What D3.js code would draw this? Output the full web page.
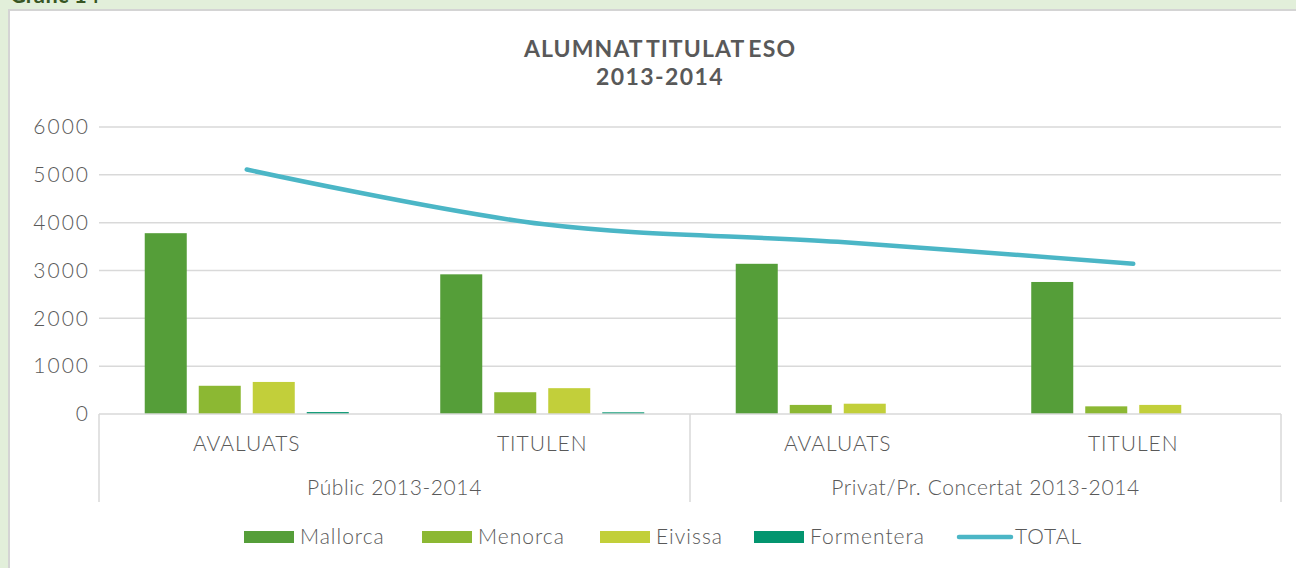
<!DOCTYPE html>
<html>
<head>
<meta charset="utf-8">
<script src="https://cdn.jsdelivr.net/npm/d3@7"></script>
<style>
  html, body { margin: 0; padding: 0; background: #e2efda; }
  svg { display: block; }
</style>
</head>
<body>
<div id="container"></div>
<script>
(function(){
  "use strict";

  // data
  var categories = ["AVALUATS", "TITULEN", "AVALUATS", "TITULEN"];
  var groups = ["Públic 2013-2014", "Privat/Pr. Concertat 2013-2014"];
  var seriesNames = ["Mallorca", "Menorca", "Eivissa", "Formentera"];
  var mallorca = [3780, 2920, 3140, 2760];
  var menorca = [590, 455, 190, 160];
  var eivissa = [670, 540, 215, 190];
  var formentera = [40, 35, 0, 0];
  var total = [5110, 3970, 3600, 3140];
  var yTicks = [0, 1000, 2000, 3000, 4000, 5000, 6000];

  var seriesValues = [mallorca, menorca, eivissa, formentera];
  var colors = ["#559e39", "#8cb833", "#c2cf3a", "#03956f"];
  var lineColor = "#4bb6c6";
  var textColor = "#595959";
  var gridColor = "#d9d9d9";
  var font = "Lato, 'Open Sans', sans-serif";

  var W = 1296, H = 568;
  var plot = { left: 99, right: 1281, top: 127, bottom: 414 };

  var svg = d3.select("#container").append("svg")
      .attr("width", W)
      .attr("height", H);

  // page header, cut off at the top as in the source
  svg.append("text")
      .attr("x", 10)
      .attr("y", 3)
      .attr("font-family", font)
      .attr("font-weight", 700)
      .attr("font-size", 22)
      .attr("fill", "#375623")
      .text("Gràfic 14");

  // white chart panel
  svg.append("rect")
      .attr("x", 9)
      .attr("y", 10)
      .attr("width", W)
      .attr("height", H)
      .attr("fill", "#ffffff")
      .attr("stroke", "#d4d4d4")
      .attr("stroke-width", 2);

  // title
  var title = svg.append("text")
      .attr("text-anchor", "middle")
      .attr("font-family", font)
      .attr("font-weight", 700)
      .attr("font-size", 23)
      .attr("letter-spacing", 1.1)
      .attr("word-spacing", -3)
      .attr("fill", textColor);
  title.append("tspan").attr("x", 660).attr("y", 57).text("ALUMNAT TITULAT ESO");
  title.append("tspan").attr("x", 660).attr("y", 85).attr("letter-spacing", 1.4).text("2013-2014");

  var x0 = d3.scaleBand()
      .domain(d3.range(categories.length))
      .range([plot.left, plot.right])
      .padding(0);
  var x1 = d3.scaleBand()
      .domain(seriesNames)
      .range([0, x0.bandwidth()])
      .paddingInner(0.222)
      .paddingOuter(0.847);
  var y = d3.scaleLinear()
      .domain([0, 6000])
      .range([plot.bottom, plot.top]);

  // gridlines
  svg.append("g")
      .selectAll("line")
      .data(yTicks.filter(function(d){ return d > 0; }))
      .join("line")
      .attr("x1", plot.left)
      .attr("x2", plot.right)
      .attr("y1", function(d){ return y(d); })
      .attr("y2", function(d){ return y(d); })
      .attr("stroke", gridColor)
      .attr("stroke-width", 1.5);

  // y axis labels
  var yAxis = d3.axisLeft(y)
      .tickValues(yTicks)
      .tickFormat(d3.format("d"))
      .tickSize(0)
      .tickPadding(9);
  var yAxisGroup = svg.append("g")
      .attr("transform", "translate(" + plot.left + ",0)")
      .call(yAxis);
  yAxisGroup.select(".domain").remove();
  yAxisGroup.selectAll("text")
      .attr("font-family", font)
      .attr("font-weight", 300)
      .attr("font-size", 21)
      .attr("letter-spacing", 2)
      .attr("fill", textColor);

  // bars
  var rows = seriesNames.map(function(name, i){
    return { name: name, color: colors[i], values: seriesValues[i] };
  });
  svg.append("g")
      .selectAll("g")
      .data(rows)
      .join("g")
      .attr("fill", function(d){ return d.color; })
      .selectAll("rect")
      .data(function(d){
        return d.values.map(function(v, c){ return { name: d.name, cat: c, value: v }; });
      })
      .join("rect")
      .attr("x", function(d){ return x0(d.cat) + x1(d.name); })
      .attr("width", x1.bandwidth())
      .attr("y", function(d){ return y(d.value); })
      .attr("height", function(d){ return y(0) - y(d.value); });

  // category axis: baseline, dividers and labels
  var catAxis = svg.append("g");
  catAxis.append("line")
      .attr("x1", plot.left).attr("x2", plot.right)
      .attr("y1", plot.bottom).attr("y2", plot.bottom)
      .attr("stroke", gridColor).attr("stroke-width", 1.5);
  var dividers = [0, 2, 4].map(function(i){
    return i < categories.length ? x0(i) : x0.range()[1];
  });
  catAxis.selectAll("line.div")
      .data(dividers)
      .join("line")
      .attr("class", "div")
      .attr("x1", function(d){ return d; })
      .attr("x2", function(d){ return d; })
      .attr("y1", plot.bottom)
      .attr("y2", 502)
      .attr("stroke", gridColor)
      .attr("stroke-width", 1.5);
  catAxis.selectAll("text.cat")
      .data(categories)
      .join("text")
      .attr("class", "cat")
      .attr("x", function(d, i){ return x0(i) + x0.bandwidth() / 2; })
      .attr("y", 451)
      .attr("text-anchor", "middle")
      .attr("font-family", font)
      .attr("font-weight", 300)
      .attr("font-size", 21)
      .attr("letter-spacing", 1)
      .attr("fill", textColor)
      .text(function(d){ return d; });
  catAxis.selectAll("text.grp")
      .data(groups)
      .join("text")
      .attr("class", "grp")
      .attr("x", function(d, i){ return (dividers[i] + dividers[i + 1]) / 2; })
      .attr("y", 495)
      .attr("text-anchor", "middle")
      .attr("font-family", font)
      .attr("font-weight", 300)
      .attr("font-size", 21)
      .attr("letter-spacing", 0.6)
      .attr("fill", textColor)
      .text(function(d){ return d; });

  // TOTAL line
  var line = d3.line()
      .x(function(d, i){ return x0(i) + x0.bandwidth() / 2; })
      .y(function(d){ return y(d); })
      .curve(d3.curveCatmullRom.alpha(0.5));
  svg.append("path")
      .datum(total)
      .attr("d", line)
      .attr("fill", "none")
      .attr("stroke", lineColor)
      .attr("stroke-width", 4.5)
      .attr("stroke-linecap", "round");

  // legend
  var legendItems = [
    { name: "Mallorca", x: 244, type: "rect", color: colors[0] },
    { name: "Menorca", x: 422, type: "rect", color: colors[1] },
    { name: "Eivissa", x: 600, type: "rect", color: colors[2] },
    { name: "Formentera", x: 754, type: "rect", color: colors[3] },
    { name: "TOTAL", x: 957, type: "line", color: lineColor }
  ];
  var legend = svg.append("g");
  var item = legend.selectAll("g")
      .data(legendItems)
      .join("g")
      .attr("transform", function(d){ return "translate(" + d.x + ",537)"; });
  item.filter(function(d){ return d.type === "rect"; })
      .append("rect")
      .attr("x", 0).attr("y", -6)
      .attr("width", 50).attr("height", 12)
      .attr("fill", function(d){ return d.color; });
  item.filter(function(d){ return d.type === "line"; })
      .append("line")
      .attr("x1", 2).attr("x2", 54)
      .attr("stroke", function(d){ return d.color; })
      .attr("stroke-width", 4.5)
      .attr("stroke-linecap", "round");
  item.append("text")
      .attr("x", function(d){ return d.type === "line" ? 58 : 56; })
      .attr("y", 7)
      .attr("font-family", font)
      .attr("font-weight", 300)
      .attr("font-size", 21)
      .attr("letter-spacing", 1)
      .attr("fill", textColor)
      .text(function(d){ return d.name; });
})();
</script>
</body>
</html>
